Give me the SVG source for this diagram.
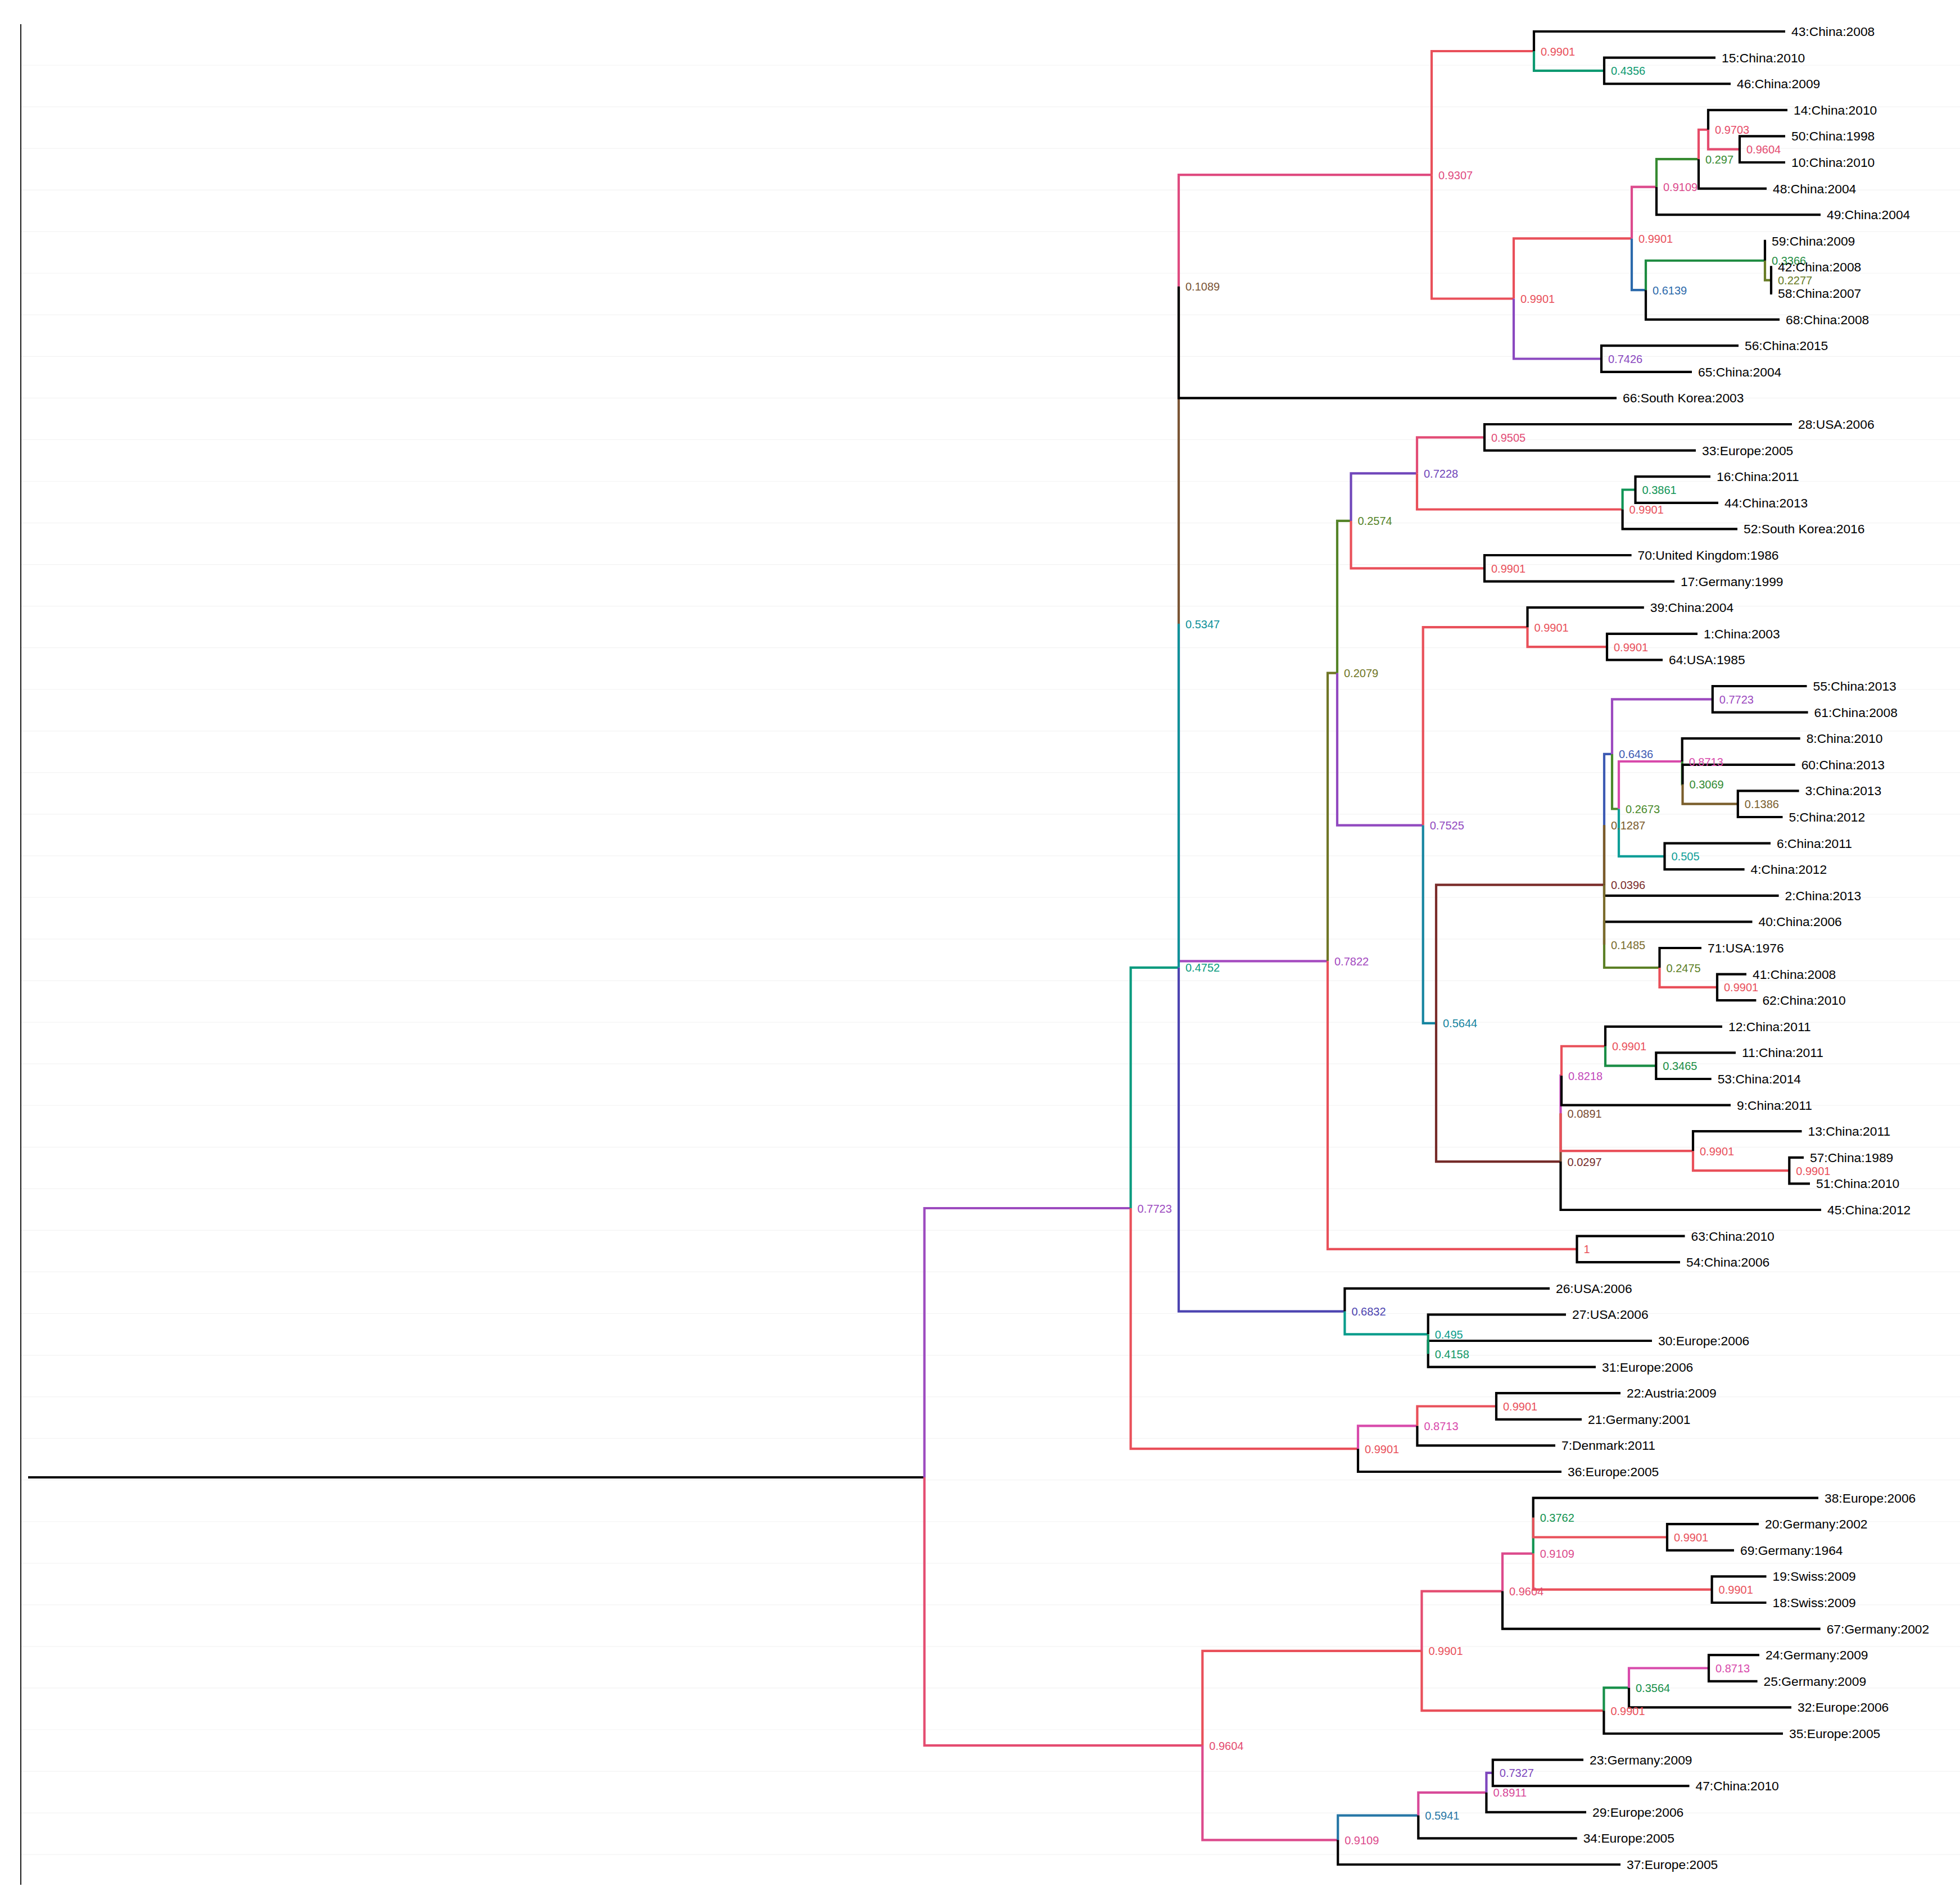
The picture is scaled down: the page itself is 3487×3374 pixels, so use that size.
<svg xmlns="http://www.w3.org/2000/svg" width="3487" height="3374" viewBox="0 0 3487 3374">
<style>
.e{fill:none;stroke:currentColor;stroke-width:4.2}
.k{color:#000}
text{font-family:"Liberation Sans",Arial,Helvetica,sans-serif}
.n{font-size:20px;fill:currentColor}
.t{font-size:22.8px;fill:#000}
.c9901{color:#e9505a}.c9703{color:#e64c68}.c9604{color:#e44c70}.c9505{color:#e24c76}.c9307{color:#df4b80}
.c9109{color:#dc4a8c}.c8911{color:#d84a99}.c8713{color:#d84aab}.c8218{color:#c349ba}.c7822{color:#a44abf}
.c7723{color:#9c4abf}.c7525{color:#9149c0}.c7426{color:#8a48bf}.c7327{color:#7e47bd}.c7228{color:#7046ba}
.c6832{color:#4c44b0}.c6436{color:#3d5ab3}.c6139{color:#2c6aab}.c5941{color:#2677a6}.c5644{color:#1685a0}
.c5347{color:#0e9199}.c505{color:#0e9e98}.c495{color:#0a9c8b}.c4752{color:#0a9b7f}.c4356{color:#0c9970}
.c4158{color:#0e9766}.c3861{color:#0f9456}.c3762{color:#119350}.c3564{color:#168f49}.c3465{color:#1a8d45}
.c3366{color:#1d8b40}.c3069{color:#348b32}.c297{color:#368a31}.c2673{color:#4a8a2a}.c2574{color:#548328}
.c2475{color:#5c8026}.c2277{color:#687b25}.c2079{color:#707626}.c1485{color:#7a6b2c}.c1386{color:#7a5e2c}
.c1287{color:#7a5a2a}.c1089{color:#7a5535}.c0891{color:#7a4b32}.c0396{color:#7a2c2a}.c0297{color:#752b29}
</style>
<rect width="3487" height="3374" fill="#fff"/>
<g id="grid" fill="none" stroke="#f3f3f3" stroke-width="1.2">
<path d="M38,116H3487M38,190.05H3487M38,264.1H3487M38,338.15H3487M38,412.2H3487M38,486.25H3487M38,560.3H3487M38,634.35H3487M38,708.4H3487M38,782.45H3487M38,856.5H3487M38,930.55H3487M38,1004.6H3487M38,1078.65H3487M38,1152.7H3487M38,1226.75H3487M38,1300.8H3487M38,1374.85H3487M38,1448.9H3487M38,1522.95H3487M38,1597H3487M38,1671.05H3487M38,1745.1H3487M38,1819.15H3487M38,1893.2H3487M38,1967.25H3487M38,2041.3H3487M38,2115.35H3487M38,2189.4H3487M38,2263.45H3487M38,2337.5H3487M38,2411.55H3487M38,2485.6H3487M38,2559.65H3487M38,2633.7H3487M38,2707.75H3487M38,2781.8H3487M38,2855.85H3487M38,2929.9H3487M38,3003.95H3487M38,3078H3487M38,3152.05H3487M38,3226.1H3487M38,3300.15H3487"/>
</g>
<line id="axis" x1="37" y1="43" x2="37" y2="3354" stroke="#000" stroke-width="1.8"/>
<g id="connectors">
<path class="e k" d="M50,2629H1644.6"/>
<path class="e c7723" d="M1644.6,2629V2150H2011.6"/>
<path class="e c9604" d="M1644.6,2629V3106.1H2139.3"/>
<path class="e c4752" d="M2011.6,2150V1721.8H2097"/>
<path class="e c9901" d="M2011.6,2150V2578.2H2416"/>
<path class="e c6832" d="M2097,1721.8V2333.6H2392.4"/>
<path class="e c1089" d="M2097,1110V509.8"/>
<path class="e c7822" d="M2097,1110V1710.3H2362"/>
<path class="e c5347" d="M2097,1721.8V1110"/>
<path class="e c9307" d="M2097,509.8V311.2H2547"/>
<path class="e c9901" d="M2547,311.2V91H2729"/>
<path class="e c9901" d="M2547,311.2V531.5H2693"/>
<path class="e c4356" d="M2729,91V125.9H2854"/>
<path class="e c9901" d="M2693,531.5V424.4H2903"/>
<path class="e c7426" d="M2693,531.5V638.5H2849"/>
<path class="e c9109" d="M2903,424.4V332.7H2947"/>
<path class="e c6139" d="M2903,424.4V516.2H2928"/>
<path class="e c297" d="M2947,332.7V283.2H3022"/>
<path class="e c9703" d="M3022,283.2V230.75H3039"/>
<path class="e c9604" d="M3039,230.75V265.7H3095"/>
<path class="e c3366" d="M2928,516.2V463.75H3140"/>
<path class="e c2277" d="M3140,463.75V498.7H3151"/>
<path class="e c2079" d="M2362,1710.3V1197.7H2379"/>
<path class="e c9901" d="M2362,1710.3V2222.9H2805.5"/>
<path class="e c2574" d="M2379,1197.7V926.9H2403.5"/>
<path class="e c7525" d="M2379,1197.7V1468.55H2531.7"/>
<path class="e c7228" d="M2403.5,926.9V842.4H2521"/>
<path class="e c9901" d="M2403.5,926.9V1011.3H2641"/>
<path class="e c9505" d="M2521,842.4V778.3H2641"/>
<path class="e c9901" d="M2521,842.4V906.5H2886.6"/>
<path class="e c3861" d="M2886.6,906.5V871.5H2909.5"/>
<path class="e c9901" d="M2531.7,1468.55V1116.2H2717.5"/>
<path class="e c5644" d="M2531.7,1468.55V1820.9H2555"/>
<path class="e c9901" d="M2717.5,1116.2V1151.1H2859"/>
<path class="e c0396" d="M2555,1820.9V1574.7H2854"/>
<path class="e c0297" d="M2555,1820.9V2067.1H2776.5"/>
<path class="e c6436" d="M2854,1468.4V1341.9H2868"/>
<path class="e c7723" d="M2868,1341.9V1244.3H3046.8"/>
<path class="e c2673" d="M2868,1341.9V1439.5H2880"/>
<path class="e c8713" d="M2880,1439.5V1355H2992.7"/>
<path class="e c505" d="M2880,1439.5V1523.9H2961.5"/>
<path class="e c3069" d="M2992.7,1355V1395.75H2993.5"/>
<path class="e c1386" d="M2993.5,1395.75V1430.7H3091.8"/>
<path class="e c2475" d="M2854,1681V1722H2952.5"/>
<path class="e c9901" d="M2952.5,1722V1756.9H3055"/>
<path class="e c0891" d="M2776.5,2067.1V1981.2"/>
<path class="e c8218" d="M2776.5,1981.2V1914.2H2778"/>
<path class="e c9901" d="M2776.5,1981.2V2048.2H3012"/>
<path class="e c9901" d="M2778,1914.2V1861.75H2856"/>
<path class="e c3465" d="M2856,1861.75V1896.7H2946.3"/>
<path class="e c9901" d="M3012,2048.2V2083.1H3183.3"/>
<path class="e c495" d="M2392.4,2333.6V2374.35H2540.7"/>
<path class="e c8713" d="M2416,2578.2V2537.45H2521.4"/>
<path class="e c9901" d="M2521.4,2537.45V2502.5H2662"/>
<path class="e c9901" d="M2139.3,3106.1V2937.9H2529.4"/>
<path class="e c9109" d="M2139.3,3106.1V3274.3H2380.2"/>
<path class="e c9604" d="M2529.4,2937.9V2831.6H2673"/>
<path class="e c9901" d="M2529.4,2937.9V3044.2H2853.4"/>
<path class="e c9109" d="M2673,2831.6V2764.6H2727.7"/>
<path class="e c3762" d="M2727.7,2764.6V2700.55"/>
<path class="e c9901" d="M2727.7,2764.6V2828.7H3045.6"/>
<path class="e c9901" d="M2727.7,2700.55V2735.5H2966"/>
<path class="e c3564" d="M2853.4,3044.2V3003.45H2898"/>
<path class="e c8713" d="M2898,3003.45V2968.5H3040"/>
<path class="e c5941" d="M2380.2,3274.3V3230.6H2523.3"/>
<path class="e c8911" d="M2523.3,3230.6V3189.85H2644.4"/>
<path class="e c7327" d="M2644.4,3189.85V3154.9H2655.8"/>
<path class="e k" d="M2729,91V56H3176M2854,125.9V102.6H3052M2854,125.9V149.2H3079M3039,230.75V195.8H3180M3095,265.7V242.4H3176M3095,265.7V289H3176M3022,283.2V335.6H3143M2947,332.7V382.2H3239M3140,463.75V428.8H3142M3151,498.7V475.4H3153M3151,498.7V522H3153M2928,516.2V568.6H3166M2849,638.5V615.2H3093M2849,638.5V661.8H3010M2097,509.8V708.4H2876"/>
<path class="e k" d="M2641,778.3V755H3188M2641,778.3V801.6H3017M2909.5,871.5V848.2H3043M2909.5,871.5V894.8H3057M2886.6,906.5V941.4H3091M2641,1011.3V988H2902.6M2641,1011.3V1034.6H2979M2717.5,1116.2V1081.2H2924.8M2859,1151.1V1127.8H3020M2859,1151.1V1174.4H2958"/>
<path class="e k" d="M3046.8,1244.3V1221H3214.5M3046.8,1244.3V1267.6H3216.6M2992.7,1355V1314.2H3202.7M2993.5,1395.75V1360.8H3193.7M3091.8,1430.7V1407.4H3200.6M3091.8,1430.7V1454H3171.5M2961.5,1523.9V1500.6H3150M2961.5,1523.9V1547.2H3103.6M2854,1468.4V1593.8H3164.6M2854,1681V1640.4H3117.5M2952.5,1722V1687H3027M3055,1756.9V1733.6H3107M3055,1756.9V1780.2H3124.4"/>
<path class="e k" d="M2856,1861.75V1826.8H3064M2946.3,1896.7V1873.4H3088M2946.3,1896.7V1920H3044.7M2778,1914.2V1966.6H3079M3012,2048.2V2013.2H3205.5M3183.3,2083.1V2059.8H3209M3183.3,2083.1V2106.4H3220M2776.5,2067.1V2153H3240M2805.5,2222.9V2199.6H2997.5M2805.5,2222.9V2246.2H2989"/>
<path class="e k" d="M2392.4,2333.6V2292.8H2757M2540.7,2374.35V2339.4H2786M2540.7,2409.3V2386H2939M2540.7,2409.3V2432.6H2839M2662,2502.5V2479.2H2883M2662,2502.5V2525.8H2814M2521.4,2537.45V2572.4H2767M2416,2578.2V2619H2778"/>
<path class="e k" d="M2727.7,2700.55V2665.6H3235M2966,2735.5V2712.2H3129M2966,2735.5V2758.8H3085M3045.6,2828.7V2805.4H3142.5M3045.6,2828.7V2852H3142.5M2673,2831.6V2898.6H3238.7M3040,2968.5V2945.2H3130M3040,2968.5V2991.8H3126.6M2898,3003.45V3038.4H3187M2853.4,3044.2V3085H3172M2655.8,3154.9V3131.6H2817M2655.8,3154.9V3178.2H3005.5M2644.4,3189.85V3224.8H2822M2523.3,3230.6V3271.4H2805.7M2380.2,3274.3V3318H2883"/>
<path class="e c1287" d="M2854,1574.7V1468.4"/>
<path class="e c1485" d="M2854,1574.7V1681"/>
<path class="e c4158" d="M2540.7,2374.35V2409.3"/>
</g>
<g id="nodes" class="n">
<g id="n-a" class="c9901"><text x="2741" y="98.5">0.9901</text></g>
<g id="n-b" class="c4356"><text x="2866" y="133.4">0.4356</text></g>
<g id="n-c" class="c9307"><text x="2559" y="318.7">0.9307</text></g>
<g id="n-d" class="c9901"><text x="2705" y="539">0.9901</text></g>
<g id="n-e" class="c9901"><text x="2915" y="431.9">0.9901</text></g>
<g id="n-f" class="c9109"><text x="2959" y="340.2">0.9109</text></g>
<g id="n-g" class="c297"><text x="3034" y="290.7">0.297</text></g>
<g id="n-h" class="c9703"><text x="3051" y="238.2">0.9703</text></g>
<g id="n-i" class="c9604"><text x="3107" y="273.2">0.9604</text></g>
<g id="n-j" class="c6139"><text x="2940" y="523.7">0.6139</text></g>
<g id="n-k" class="c3366"><text x="3152" y="471.2">0.3366</text></g>
<g id="n-l" class="c2277"><text x="3163" y="506.2">0.2277</text></g>
<g id="n-m" class="c7426"><text x="2861" y="646">0.7426</text></g>
<g id="n-n" class="c1089"><text x="2109" y="517.3">0.1089</text></g>
<g id="n-o" class="c9505"><text x="2653" y="785.8">0.9505</text></g>
<g id="n-p" class="c3861"><text x="2921.5" y="879">0.3861</text></g>
<g id="n-q" class="c9901"><text x="2898.6" y="914">0.9901</text></g>
<g id="n-r" class="c7228"><text x="2533" y="849.9">0.7228</text></g>
<g id="n-s" class="c9901"><text x="2653" y="1018.8">0.9901</text></g>
<g id="n-t" class="c2574"><text x="2415.5" y="934.4">0.2574</text></g>
<g id="n-u" class="c9901"><text x="2871" y="1158.6">0.9901</text></g>
<g id="n-v" class="c9901"><text x="2729.5" y="1123.7">0.9901</text></g>
<g id="n-w" class="c7723"><text x="3058.8" y="1251.8">0.7723</text></g>
<g id="n-x" class="c1386"><text x="3103.8" y="1438.2">0.1386</text></g>
<g id="n-y" class="c3069"><text x="3005.5" y="1403.2">0.3069</text></g>
<g id="n-z" class="c8713"><text x="3004.7" y="1362.5">0.8713</text></g>
<g id="n-aa" class="c505"><text x="2973.5" y="1531.4">0.505</text></g>
<g id="n-ab" class="c2673"><text x="2892" y="1447">0.2673</text></g>
<g id="n-ac" class="c6436"><text x="2880" y="1349.4">0.6436</text></g>
<g id="n-ad" class="c1287"><text x="2866" y="1475.9">0.1287</text></g>
<g id="n-ae" class="c9901"><text x="3067" y="1764.4">0.9901</text></g>
<g id="n-af" class="c2475"><text x="2964.5" y="1729.5">0.2475</text></g>
<g id="n-ag" class="c1485"><text x="2866" y="1688.5">0.1485</text></g>
<g id="n-ah" class="c0396"><text x="2866" y="1582.2">0.0396</text></g>
<g id="n-ai" class="c3465"><text x="2958.3" y="1904.2">0.3465</text></g>
<g id="n-aj" class="c9901"><text x="2868" y="1869.2">0.9901</text></g>
<g id="n-ak" class="c8218"><text x="2790" y="1921.7">0.8218</text></g>
<g id="n-al" class="c9901"><text x="3195.3" y="2090.6">0.9901</text></g>
<g id="n-am" class="c9901"><text x="3024" y="2055.7">0.9901</text></g>
<g id="n-an" class="c0891"><text x="2788.5" y="1988.7">0.0891</text></g>
<g id="n-ao" class="c0297"><text x="2788.5" y="2074.6">0.0297</text></g>
<g id="n-ap" class="c5644"><text x="2567" y="1828.4">0.5644</text></g>
<g id="n-ar" class="c7525"><text x="2543.7" y="1476">0.7525</text></g>
<g id="n-as" class="c2079"><text x="2391" y="1205.2">0.2079</text></g>
<g id="n-at" class="c9901"><text x="2817.5" y="2230.4">1</text></g>
<g id="n-au" class="c7822"><text x="2374" y="1717.8">0.7822</text></g>
<g id="n-av" class="c5347"><text x="2109" y="1117.5">0.5347</text></g>
<g id="n-aw" class="c4158"><text x="2552.7" y="2416.8">0.4158</text></g>
<g id="n-ax" class="c495"><text x="2552.7" y="2381.8">0.495</text></g>
<g id="n-ay" class="c6832"><text x="2404.4" y="2341.1">0.6832</text></g>
<g id="n-az" class="c4752"><text x="2109" y="1729.3">0.4752</text></g>
<g id="n-ba" class="c9901"><text x="2674" y="2510">0.9901</text></g>
<g id="n-bb" class="c8713"><text x="2533.4" y="2545">0.8713</text></g>
<g id="n-bc" class="c9901"><text x="2428" y="2585.7">0.9901</text></g>
<g id="n-bd" class="c7723"><text x="2023.6" y="2157.5">0.7723</text></g>
<g id="n-be" class="c9901"><text x="2978" y="2743">0.9901</text></g>
<g id="n-bf" class="c3762"><text x="2739.7" y="2708">0.3762</text></g>
<g id="n-bg" class="c9901"><text x="3057.6" y="2836.2">0.9901</text></g>
<g id="n-bh" class="c9109"><text x="2739.7" y="2772.1">0.9109</text></g>
<g id="n-bi" class="c9604"><text x="2685" y="2839.1">0.9604</text></g>
<g id="n-bj" class="c8713"><text x="3052" y="2976">0.8713</text></g>
<g id="n-bk" class="c3564"><text x="2910" y="3011">0.3564</text></g>
<g id="n-bl" class="c9901"><text x="2865.4" y="3051.7">0.9901</text></g>
<g id="n-bm" class="c9901"><text x="2541.4" y="2945.4">0.9901</text></g>
<g id="n-bn" class="c7327"><text x="2667.8" y="3162.4">0.7327</text></g>
<g id="n-bo" class="c8911"><text x="2656.4" y="3197.3">0.8911</text></g>
<g id="n-bp" class="c5941"><text x="2535.3" y="3238.1">0.5941</text></g>
<g id="n-bq" class="c9109"><text x="2392.2" y="3281.8">0.9109</text></g>
<g id="n-br" class="c9604"><text x="2151.3" y="3113.6">0.9604</text></g>
</g>
<g id="leaves" class="t">
<g id="leaf-43"><text x="3187" y="64">43:China:2008</text></g>
<g id="leaf-15"><text x="3063" y="110.6">15:China:2010</text></g>
<g id="leaf-46"><text x="3090" y="157.2">46:China:2009</text></g>
<g id="leaf-14"><text x="3191" y="203.8">14:China:2010</text></g>
<g id="leaf-50"><text x="3187" y="250.4">50:China:1998</text></g>
<g id="leaf-10"><text x="3187" y="297">10:China:2010</text></g>
<g id="leaf-48"><text x="3154" y="343.6">48:China:2004</text></g>
<g id="leaf-49"><text x="3250" y="390.2">49:China:2004</text></g>
<g id="leaf-59"><text x="3152" y="436.8">59:China:2009</text></g>
<g id="leaf-42"><text x="3163" y="483.4">42:China:2008</text></g>
<g id="leaf-58"><text x="3163" y="530">58:China:2007</text></g>
<g id="leaf-68"><text x="3177" y="576.6">68:China:2008</text></g>
<g id="leaf-56"><text x="3104" y="623.2">56:China:2015</text></g>
<g id="leaf-65"><text x="3021" y="669.8">65:China:2004</text></g>
<g id="leaf-66"><text x="2887" y="716.4">66:South Korea:2003</text></g>
<g id="leaf-28"><text x="3199" y="763">28:USA:2006</text></g>
<g id="leaf-33"><text x="3028" y="809.6">33:Europe:2005</text></g>
<g id="leaf-16"><text x="3054" y="856.2">16:China:2011</text></g>
<g id="leaf-44"><text x="3068" y="902.8">44:China:2013</text></g>
<g id="leaf-52"><text x="3102" y="949.4">52:South Korea:2016</text></g>
<g id="leaf-70"><text x="2913.6" y="996">70:United Kingdom:1986</text></g>
<g id="leaf-17"><text x="2990" y="1042.6">17:Germany:1999</text></g>
<g id="leaf-39"><text x="2935.8" y="1089.2">39:China:2004</text></g>
<g id="leaf-1"><text x="3031" y="1135.8">1:China:2003</text></g>
<g id="leaf-64"><text x="2969" y="1182.4">64:USA:1985</text></g>
<g id="leaf-55"><text x="3225.5" y="1229">55:China:2013</text></g>
<g id="leaf-61"><text x="3227.6" y="1275.6">61:China:2008</text></g>
<g id="leaf-8"><text x="3213.7" y="1322.2">8:China:2010</text></g>
<g id="leaf-60"><text x="3204.7" y="1368.8">60:China:2013</text></g>
<g id="leaf-3"><text x="3211.6" y="1415.4">3:China:2013</text></g>
<g id="leaf-5"><text x="3182.5" y="1462">5:China:2012</text></g>
<g id="leaf-6"><text x="3161" y="1508.6">6:China:2011</text></g>
<g id="leaf-4"><text x="3114.6" y="1555.2">4:China:2012</text></g>
<g id="leaf-2"><text x="3175.6" y="1601.8">2:China:2013</text></g>
<g id="leaf-40"><text x="3128.5" y="1648.4">40:China:2006</text></g>
<g id="leaf-71"><text x="3038" y="1695">71:USA:1976</text></g>
<g id="leaf-41"><text x="3118" y="1741.6">41:China:2008</text></g>
<g id="leaf-62"><text x="3135.4" y="1788.2">62:China:2010</text></g>
<g id="leaf-12"><text x="3075" y="1834.8">12:China:2011</text></g>
<g id="leaf-11"><text x="3099" y="1881.4">11:China:2011</text></g>
<g id="leaf-53"><text x="3055.7" y="1928">53:China:2014</text></g>
<g id="leaf-9"><text x="3090" y="1974.6">9:China:2011</text></g>
<g id="leaf-13"><text x="3216.5" y="2021.2">13:China:2011</text></g>
<g id="leaf-57"><text x="3220" y="2067.8">57:China:1989</text></g>
<g id="leaf-51"><text x="3231" y="2114.4">51:China:2010</text></g>
<g id="leaf-45"><text x="3251" y="2161">45:China:2012</text></g>
<g id="leaf-63"><text x="3008.5" y="2207.6">63:China:2010</text></g>
<g id="leaf-54"><text x="3000" y="2254.2">54:China:2006</text></g>
<g id="leaf-26"><text x="2768" y="2300.8">26:USA:2006</text></g>
<g id="leaf-27"><text x="2797" y="2347.4">27:USA:2006</text></g>
<g id="leaf-30"><text x="2950" y="2394">30:Europe:2006</text></g>
<g id="leaf-31"><text x="2850" y="2440.6">31:Europe:2006</text></g>
<g id="leaf-22"><text x="2894" y="2487.2">22:Austria:2009</text></g>
<g id="leaf-21"><text x="2825" y="2533.8">21:Germany:2001</text></g>
<g id="leaf-7"><text x="2778" y="2580.4">7:Denmark:2011</text></g>
<g id="leaf-36"><text x="2789" y="2627">36:Europe:2005</text></g>
<g id="leaf-38"><text x="3246" y="2673.6">38:Europe:2006</text></g>
<g id="leaf-20"><text x="3140" y="2720.2">20:Germany:2002</text></g>
<g id="leaf-69"><text x="3096" y="2766.8">69:Germany:1964</text></g>
<g id="leaf-19"><text x="3153.5" y="2813.4">19:Swiss:2009</text></g>
<g id="leaf-18"><text x="3153.5" y="2860">18:Swiss:2009</text></g>
<g id="leaf-67"><text x="3249.7" y="2906.6">67:Germany:2002</text></g>
<g id="leaf-24"><text x="3141" y="2953.2">24:Germany:2009</text></g>
<g id="leaf-25"><text x="3137.6" y="2999.8">25:Germany:2009</text></g>
<g id="leaf-32"><text x="3198" y="3046.4">32:Europe:2006</text></g>
<g id="leaf-35"><text x="3183" y="3093">35:Europe:2005</text></g>
<g id="leaf-23"><text x="2828" y="3139.6">23:Germany:2009</text></g>
<g id="leaf-47"><text x="3016.5" y="3186.2">47:China:2010</text></g>
<g id="leaf-29"><text x="2833" y="3232.8">29:Europe:2006</text></g>
<g id="leaf-34"><text x="2816.7" y="3279.4">34:Europe:2005</text></g>
<g id="leaf-37"><text x="2894" y="3326">37:Europe:2005</text></g>
</g>
</svg>
